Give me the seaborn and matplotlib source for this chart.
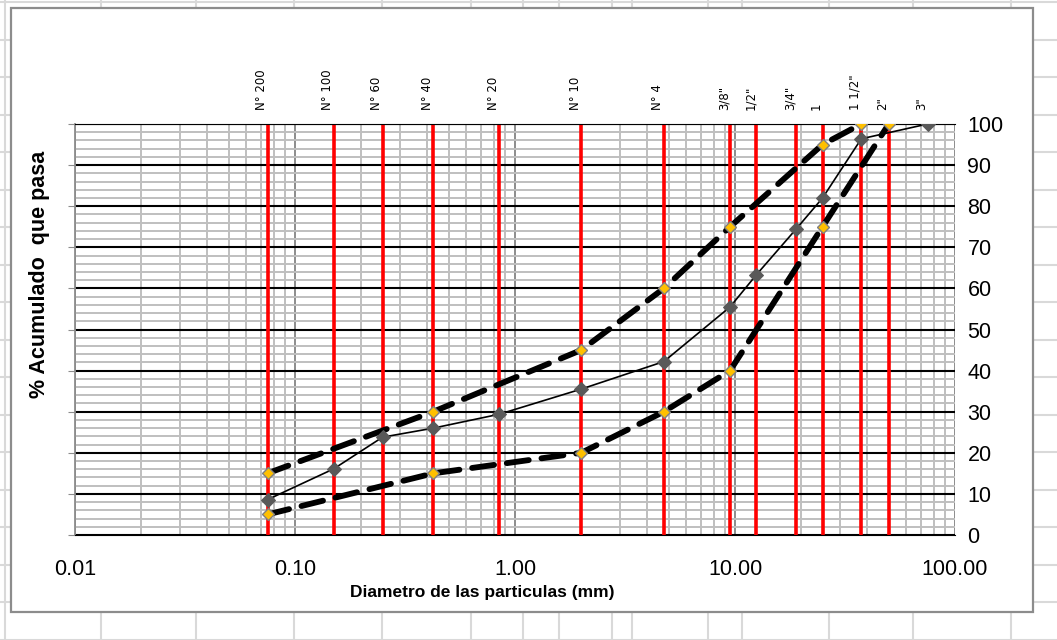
import numpy as np
import pandas as pd
import matplotlib
matplotlib.use("Agg")
import matplotlib.pyplot as plt
import seaborn as sns
from matplotlib.lines import Line2D
from matplotlib.patches import Rectangle
from matplotlib.ticker import FixedLocator, NullFormatter, LogLocator

# Sieve openings (mm) and their names
sieve_labels = ['N° 200', 'N° 100', 'N° 60', 'N° 40', 'N° 20', 'N° 10', 'N° 4',
                '3/8"', '1/2"', '3/4"', '1', '1 1/2"', '2"', '3"']
sieve_mm = [0.075, 0.15, 0.25, 0.425, 0.85, 2.0, 4.75, 9.5, 12.5, 19.0, 25.0, 37.5, 50.0, 75.0]
marked_sieves_mm = [0.075, 0.15, 0.25, 0.425, 0.85, 2.0, 4.75, 9.5, 12.5, 19.0, 25.0, 37.5, 50.0]

# Sample gradation (% passing)
sample_mm = [0.075, 0.15, 0.25, 0.425, 0.85, 2.0, 4.75, 9.5, 12.5, 19.0, 25.0, 37.5, 75.0]
sample_pass = [8.6, 16.1, 23.8, 26.0, 29.4, 35.5, 42.2, 55.5, 63.3, 74.5, 82.0, 96.4, 100.0]

# Specification band
upper_mm = [0.075, 0.425, 2.0, 4.75, 9.5, 25.0, 37.5]
upper_pass = [15, 30, 45, 60, 75, 95, 100]
lower_mm = [0.075, 0.425, 2.0, 4.75, 9.5, 25.0, 50.0]
lower_pass = [5, 15, 20, 30, 40, 75, 100]

x_ticks = [0.01, 0.1, 1, 10, 100]
x_tick_labels = ['0.01', '0.10', '1.00', '10.00', '100.00']
y_ticks = list(range(0, 101, 10))

sns.set_style("white")
plt.rcParams['font.family'] = ['Liberation Sans', 'DejaVu Sans']
plt.rcParams.update({'text.color': 'black', 'axes.labelcolor': 'black',
                     'xtick.color': 'black', 'ytick.color': 'black'})

W, H = 1057, 640
fig = plt.figure(figsize=(W / 100, H / 100), dpi=100)

# Worksheet cell lines behind the chart
cell_color = '#D9D9D9'
for cx in [5, 101, 196, 294, 382, 471, 523, 559, 612, 632, 708, 742, 829, 913, 1011]:
    fig.add_artist(Line2D([cx / W, cx / W], [0, 1], color=cell_color, lw=1.5, zorder=-3))
for cy in np.arange(2, 641, 37.5):
    fig.add_artist(Line2D([0, 1], [1 - cy / H, 1 - cy / H], color=cell_color, lw=1.5, zorder=-3))

# Chart area frame
fig.add_artist(Rectangle((11 / W, 1 - 612 / H), (1033 - 11) / W, (612 - 8) / H,
                         facecolor='white', edgecolor='#8C8C8C', lw=1.6, zorder=-1))

ax = fig.add_axes([75 / W, 1 - 535 / H, (955 - 75) / W, (535 - 124) / H])
ax.set_facecolor('white')
ax.set_xscale('log')
ax.set_xlim(0.01, 100)
ax.set_ylim(0, 100)

# Grid: log minors in light gray, decades darker; every 2 % light, every 10 % black
ax.xaxis.set_major_locator(FixedLocator(x_ticks))
ax.xaxis.set_minor_locator(LogLocator(base=10, subs=np.arange(2, 10)))
ax.xaxis.set_minor_formatter(NullFormatter())
ax.set_xticklabels(x_tick_labels)
ax.yaxis.set_major_locator(FixedLocator(y_ticks))
ax.yaxis.set_minor_locator(FixedLocator(list(range(0, 101, 2))))
ax.grid(which='minor', axis='x', color='#BFBFBF', lw=1.4, zorder=0)
ax.grid(which='major', axis='x', color='#8C8C8C', lw=1.4, zorder=0)
ax.grid(which='minor', axis='y', color='#BFBFBF', lw=1.4, zorder=0)
ax.grid(which='major', axis='y', color='black', lw=1.5, zorder=0.5)
ax.set_axisbelow(True)

ax.spines['left'].set_color('#8C8C8C')
ax.spines['left'].set_linewidth(1.3)
ax.spines['right'].set_visible(False)
ax.spines['top'].set_color('black')
ax.spines['bottom'].set_color('black')

ax.tick_params(axis='y', which='major', left=True, right=False, labelleft=False,
               labelright=True, length=5, color='#8C8C8C', labelcolor='black',
               labelsize=15.5, pad=4)
ax.tick_params(axis='y', which='minor', left=False, right=False)
ax.tick_params(axis='x', which='both', length=0, labelsize=15.5, pad=17, labelcolor='black')

# Sieve reference lines
for d in marked_sieves_mm:
    ax.axvline(d, color='#FF0000', lw=2.6, zorder=1)

# Specification limits (thick dashed) and sample curve
band_style = dict(color='black', lw=4.2, marker='D', markersize=6.5,
                  markerfacecolor='#FFC000', markeredgecolor='#808080',
                  markeredgewidth=1.0, sort=False, estimator=None, zorder=3)
sns.lineplot(x=upper_mm, y=upper_pass, ax=ax, dashes=False, **band_style)
sns.lineplot(x=lower_mm, y=lower_pass, ax=ax, dashes=False, **band_style)
for line in ax.lines[-2:]:
    line.set_dashes((3.8, 2.2))
    line.set_dash_capstyle('round')

sns.lineplot(x=sample_mm, y=sample_pass, ax=ax, color='black', lw=1.2,
             marker='D', markersize=7, markerfacecolor='#595959',
             markeredgecolor='#595959', sort=False, estimator=None, zorder=4)

ax.set_xlim(0.01, 100)
ax.set_ylim(0, 100)

# Sieve names above the plot
for name, d in zip(sieve_labels, sieve_mm):
    ax.annotate(name, xy=(d, 100), xycoords='data', xytext=(-6, 14),
                textcoords='offset pixels', rotation=90, ha='center', va='bottom',
                fontsize=8.5, family=['DejaVu Sans'], color='black', annotation_clip=False)

ax.set_xlabel('Diametro de las particulas (mm)', fontsize=12.5, fontweight='bold', color='black')
ax.xaxis.set_label_coords(0.4625, -0.122)
ax.set_ylabel('% Acumulado  que pasa', fontsize=15.5, fontweight='bold', color='black')
ax.yaxis.set_label_coords(-0.028, 0.633)

fig.savefig('out.png', dpi=100)
